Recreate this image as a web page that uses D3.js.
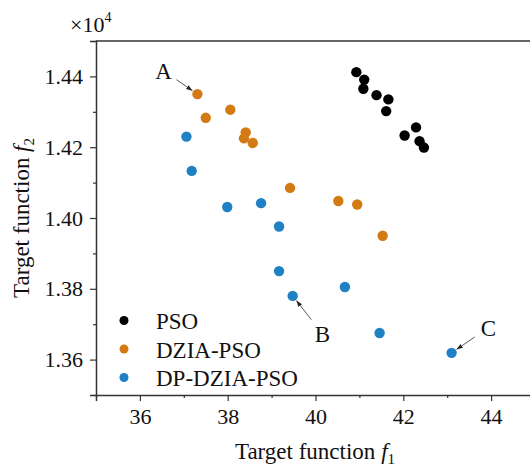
<!DOCTYPE html>
<html>
<head>
<meta charset="utf-8">
<script src="https://cdn.jsdelivr.net/npm/d3@7"></script>
<style>
  body { margin: 0; background: #fff; }
  svg { display: block; }
  text { font-family: "Liberation Serif", "Times New Roman", serif; fill: #111; }
</style>
</head>
<body>
<div id="chart"></div>
<script>
// f1 values and f2 values for each algorithm
var psoF1 = [40.93, 41.11, 41.09, 41.39, 41.66, 41.61, 42.29, 42.03, 42.37, 42.47];
var psoF2 = [14412, 14391, 14365, 14347, 14335, 14302, 14256, 14233, 14217, 14199];

var dziaF1 = [37.31, 37.50, 38.06, 38.41, 38.37, 38.57, 39.42, 40.52, 40.95, 41.53];
var dziaF2 = [14350, 14283, 14306, 14242, 14225, 14212, 14085, 14048, 14038, 13950];

var dpF1 = [37.06, 37.18, 37.99, 38.76, 39.17, 39.17, 39.48, 40.67, 41.46, 43.10];
var dpF2 = [14230, 14133, 14031, 14042, 13976, 13850, 13780, 13805, 13675, 13619];

var seriesNames = ["PSO", "DZIA-PSO", "DP-DZIA-PSO"];
var seriesColors = ["#000000", "#d47a15", "#1f80c4"];

var xTicks = [36, 38, 40, 42, 44];
var yTicks = [13600, 13800, 14000, 14200, 14400];

// annotation labels: which point they point at
var notes = [
    {label: "A", f1: 37.31, f2: 14350, dx: -29, dy: -20},
    {label: "B", f1: 39.48, f2: 13780, dx: 26, dy: 33},
    {label: "C", f1: 43.10, f2: 13619, dx: 32, dy: -22}
];

var width = 530, height = 466;
var margin = {top: 41, right: -5, bottom: 71, left: 96};

var svg = d3.select("#chart").append("svg")
    .attr("width", width)
    .attr("height", height);

var xa = d3.scaleLinear()
    .domain([35, 45])
    .range([margin.left, width - margin.right]);

var ya = d3.scaleLinear()
    .domain([13500, 14500])
    .range([height - margin.bottom, margin.top]);

var series = [
    {name: seriesNames[0], color: seriesColors[0], f1: psoF1, f2: psoF2},
    {name: seriesNames[1], color: seriesColors[1], f1: dziaF1, f2: dziaF2},
    {name: seriesNames[2], color: seriesColors[2], f1: dpF1, f2: dpF2}
];

//minor ticks
var xMinor = d3.range(35, 45.01, 1).filter(function(v) { return xTicks.indexOf(v) < 0; });
var yMinor = d3.range(13500, 14501, 100).filter(function(v) { return yTicks.indexOf(v) < 0; });

var xAxis = d3.axisBottom(xa).tickValues(xTicks).tickSize(6).tickPadding(7)
    .tickFormat(d3.format("d"));
var yAxis = d3.axisLeft(ya).tickValues(yTicks).tickSize(6).tickPadding(7)
    .tickFormat(function(d) { return (d / 10000).toFixed(2); });

svg.append("g")
    .attr("transform", "translate(0," + ya(13500) + ")")
    .call(xAxis);
svg.append("g")
    .attr("transform", "translate(0," + ya(13500) + ")")
    .call(d3.axisBottom(xa).tickValues(xMinor).tickSize(3).tickFormat(""))
    .select(".domain").remove();

svg.append("g")
    .attr("transform", "translate(" + xa(35) + ",0)")
    .call(yAxis);
svg.append("g")
    .attr("transform", "translate(" + xa(35) + ",0)")
    .call(d3.axisLeft(ya).tickValues(yMinor).tickSize(3).tickFormat(""))
    .select(".domain").remove();

svg.selectAll(".tick line").attr("stroke", "#333").attr("stroke-width", 1.2);
svg.selectAll(".domain").attr("stroke", "#333").attr("stroke-width", 1.5);
svg.selectAll(".tick text")
    .style("font-family", "Liberation Serif, serif")
    .style("font-size", "22px")
    .attr("fill", "#111");

// top frame line
svg.append("line")
    .attr("x1", xa(35)).attr("y1", ya(14500))
    .attr("x2", xa(45)).attr("y2", ya(14500))
    .attr("stroke", "#333")
    .attr("stroke-width", 1.5);

// points
series.forEach(function(s) {
    svg.append("g").selectAll("circle")
        .data(s.f1.map(function(v, i) { return [v, s.f2[i]]; }))
        .enter().append("circle")
        .attr("cx", function(d) { return xa(d[0]); })
        .attr("cy", function(d) { return ya(d[1]); })
        .attr("r", 5.2)
        .attr("fill", s.color);
});

// annotations
svg.append("defs").append("marker")
    .attr("id", "arrow")
    .attr("viewBox", "0 0 10 10")
    .attr("refX", 10).attr("refY", 5)
    .attr("markerWidth", 7).attr("markerHeight", 7)
    .attr("orient", "auto")
    .append("path")
    .attr("d", "M0,1.5 L10,5 L0,8.5 Z")
    .attr("fill", "#222");

notes.forEach(function(n) {
    var px = xa(n.f1), py = ya(n.f2);
    var len = Math.sqrt(n.dx * n.dx + n.dy * n.dy);
    var ux = n.dx / len, uy = n.dy / len;
    svg.append("line")
        .attr("x1", px + n.dx * 0.72).attr("y1", py + n.dy * 0.72)
        .attr("x2", px + ux * 6).attr("y2", py + uy * 6)
        .attr("stroke", "#444")
        .attr("stroke-width", 0.9)
        .attr("marker-end", "url(#arrow)");
    svg.append("text")
        .attr("x", px + n.dx + ux * 6)
        .attr("y", py + n.dy + uy * 6)
        .attr("dy", "0.35em")
        .style("text-anchor", "middle")
        .style("font-size", "23px")
        .text(n.label);
});

// legend
var legend = svg.append("g");
series.forEach(function(s, i) {
    legend.append("circle")
        .attr("cx", 124).attr("cy", 320.5 + i * 28.5)
        .attr("r", 4.5)
        .attr("fill", s.color);
    legend.append("text")
        .attr("x", 156).attr("y", 321 + i * 28.5)
        .attr("dy", "0.35em")
        .style("font-size", "23px")
        .text(s.name);
});

// axis titles
var xt = svg.append("text")
    .attr("x", 315).attr("y", 459)
    .style("text-anchor", "middle")
    .style("font-size", "23px");
xt.append("tspan").text("Target function ");
xt.append("tspan").style("font-style", "italic").text("f");
xt.append("tspan").attr("dy", 5).style("font-size", "15px").text("1");

var yt = svg.append("text")
    .attr("transform", "translate(29," + ya(14000) + ") rotate(-90)")
    .style("text-anchor", "middle")
    .style("font-size", "23px");
yt.append("tspan").text("Target function ");
yt.append("tspan").style("font-style", "italic").text("f");
yt.append("tspan").attr("dy", 5).style("font-size", "15px").text("2");

// exponent label
var ex = svg.append("text")
    .attr("x", 70).attr("y", 32)
    .style("font-size", "22px");
ex.append("tspan").text("\u00d710");
ex.append("tspan").attr("dy", -10).style("font-size", "14px").text("4");
</script>
</body>
</html>
